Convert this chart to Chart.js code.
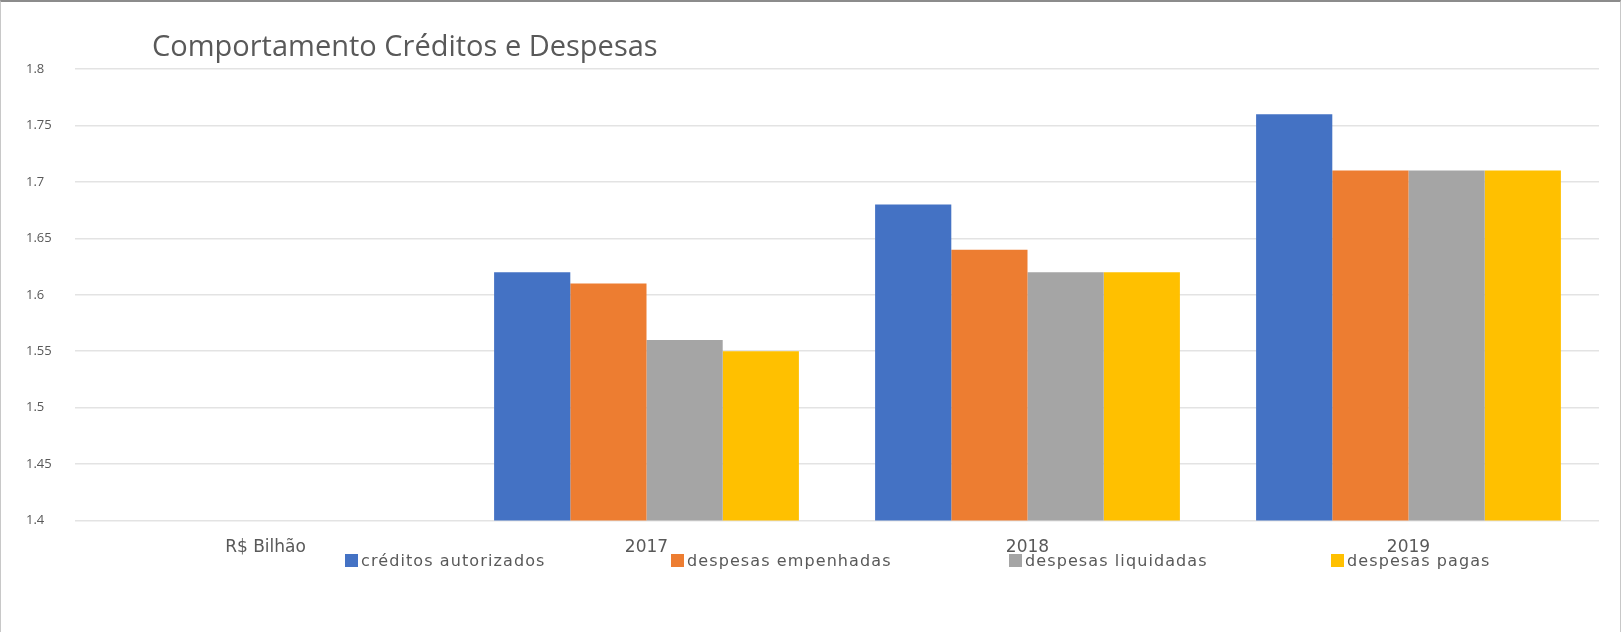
<!DOCTYPE html>
<html>
<head>
<meta charset="utf-8">
<script src="https://cdn.jsdelivr.net/npm/chart.js@4.4.0/dist/chart.umd.min.js"></script>
<style>
    html, body { margin: 0; padding: 0; background: #fff; }
    #wrap { position: relative; width: 1621px; height: 632px; box-sizing: border-box;
        border-top: 2px solid #8c8c8c; border-left: 1px solid #c8c8c8; border-right: 1px solid #c8c8c8; overflow: hidden; }
    #title { position: absolute; left: 151px; top: 23px; font-family: "Open Sans", sans-serif;
        font-size: 29px; color: #595959; white-space: nowrap; }
    #legend { position: absolute; left: 344px; top: 549px; display: flex; font-family: "DejaVu Sans", sans-serif;
        font-size: 16px; letter-spacing: 1.1px; color: #595959; }
    #legend .item { display: flex; align-items: center; white-space: nowrap; }
    #legend .item:nth-child(1) { width: 326px; }
    #legend .item:nth-child(2) { width: 338px; }
    #legend .item:nth-child(3) { width: 322px; }
    #legend .box { width: 13px; height: 13px; margin-right: 3px; }
    canvas { position: absolute; left: 0; top: 0; }
</style>
</head>
<body>
<div id="wrap">
    <canvas id="chart" width="1619" height="630"></canvas>
    <div id="title">Comportamento Créditos e Despesas</div>
    <div id="legend"></div>
</div>
<script>
    // Categories and series
    const categories = ['R$ Bilhão', '2017', '2018', '2019'];
    const creditosAutorizados = [null, 1.62, 1.68, 1.76];
    const despesasEmpenhadas = [null, 1.61, 1.64, 1.71];
    const despesasLiquidadas = [null, 1.56, 1.62, 1.71];
    const despesasPagas = [null, 1.55, 1.62, 1.71];
    const seriesNames = ['créditos autorizados', 'despesas empenhadas', 'despesas liquidadas', 'despesas pagas'];
    const seriesColors = ['#4472C4', '#ED7D31', '#A5A5A5', '#FFC000'];

    const allSeries = [creditosAutorizados, despesasEmpenhadas, despesasLiquidadas, despesasPagas];

    const datasets = allSeries.map((values, i) => ({
        label: seriesNames[i],
        data: values,
        backgroundColor: seriesColors[i],
        borderWidth: 0,
        categoryPercentage: 0.8,
        barPercentage: 1.0
    }));

    // Legend drawn as html so the entries can sit where the original has them
    const legendDiv = document.getElementById('legend');
    datasets.forEach(ds => {
        const item = document.createElement('div');
        item.className = 'item';
        item.innerHTML = `<span class="box" style="background:${ds.backgroundColor}"></span>${ds.label}`;
        legendDiv.appendChild(item);
    });

    const ctx = document.getElementById('chart').getContext('2d');
    new Chart(ctx, {
        type: 'bar',
        data: { labels: categories, datasets: datasets },
        options: {
            responsive: false,
            animation: false,
            layout: { padding: { top: 67, right: 21, bottom: 65, left: 25 } },
            plugins: {
                legend: { display: false },
                tooltip: { enabled: false }
            },
            scales: {
                x: {
                    grid: { display: false },
                    border: { display: false },
                    ticks: { color: '#595959', font: { family: 'DejaVu Sans', size: 17 }, padding: 9 }
                },
                y: {
                    min: 1.4,
                    max: 1.8,
                    afterFit: scale => { scale.width = 49; },
                    grid: { color: '#e3e3e3', lineWidth: 1.5, drawTicks: false },
                    border: { display: false },
                    ticks: {
                        stepSize: 0.05,
                        crossAlign: 'far',
                        padding: 8,
                        color: '#595959',
                        font: { family: 'Open Sans', size: 13 },
                        callback: v => String(Math.round(v * 100) / 100)
                    }
                }
            }
        }
    });
</script>
</body>
</html>
